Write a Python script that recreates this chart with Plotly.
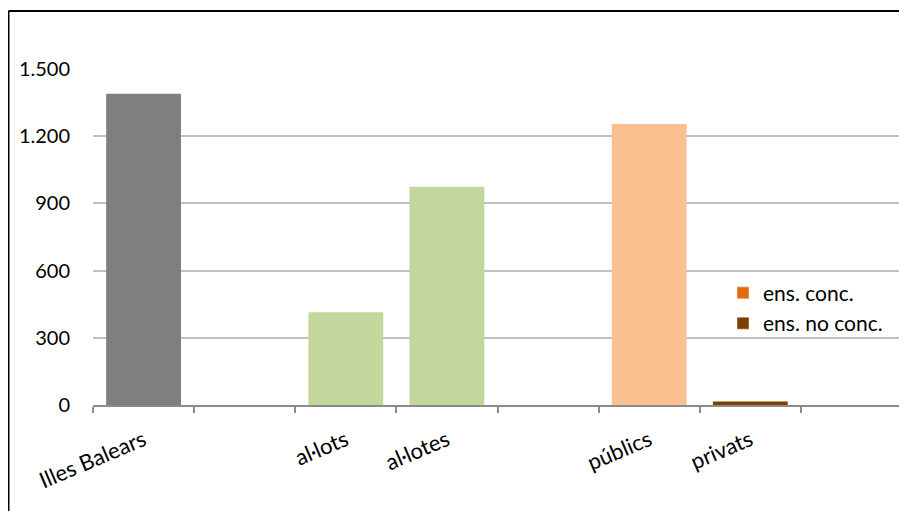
import plotly.graph_objects as go

categories = ["Illes Balears", " ", "al·lots", "al·lotes", "  ", "públics", "privats", "   "]
values = [1389, None, 414, 974, None, 1255, 16, None]
bar_colors = ["#7F7F7F", "#7F7F7F", "#C3D69B", "#C3D69B", "#FAC090", "#FAC090", "#7F3F00", "#7F3F00"]
legend_names = ["ens. conc.", "ens. no conc."]
legend_colors = ["#E36C09", "#7F3F00"]
y_ticks = [0, 300, 600, 900, 1200, 1500]

FONT = "Lato, 'Open Sans', sans-serif"

fig = go.Figure()
fig.add_trace(go.Bar(
    x=categories, y=values, marker=dict(color=bar_colors, line=dict(width=0)),
    width=0.74, showlegend=False, hoverinfo="x+y",
))
for name, col in zip(legend_names, legend_colors):
    fig.add_trace(go.Bar(x=[categories[-1]], y=[None], name=name,
                         marker=dict(color=col), showlegend=True))

# page offset of the figure div (body margin)
OFF = 8
# plot area in page pixels
L, R, T, B = 93.0, 902.0, 69.0, 405.5
W, H = R - L, B - T
def px(x):
    return (x - L) / W
def py(y):
    return (B - y) / H

FIG_W, FIG_H = 907 - OFF, 511 - OFF
frame = dict(color="#000000", width=2)
fig.add_shape(type="line", xref="paper", yref="paper", x0=px(8.5), x1=px(8.5), y0=py(11), y1=py(520), line=frame)
fig.add_shape(type="line", xref="paper", yref="paper", x0=px(8.5), x1=px(920), y0=py(11), y1=py(11), line=frame)

fig.update_layout(
    width=FIG_W, height=FIG_H,
    margin=dict(l=L - OFF, r=FIG_W - (R - OFF), t=T - OFF, b=FIG_H - (B - OFF)),
    paper_bgcolor="white", plot_bgcolor="white",
    barmode="overlay",
    separators=",.",
    font=dict(family=FONT, size=19, color="#000000"),
    legend=dict(x=px(723), y=py(273), xanchor="left", yanchor="top",
                bgcolor="rgba(0,0,0,0)", font=dict(size=21), tracegroupgap=0),
    xaxis=dict(type="category", categoryorder="array", categoryarray=categories,
               showline=True, linecolor="#8C8C8C", linewidth=2,
               ticks="outside", tickson="boundaries", ticklen=6, tickcolor="#8C8C8C", tickwidth=2,
               tickangle=-23, showgrid=False, tickfont=dict(size=22), ticklabelstandoff=12),
    yaxis=dict(range=[0, 1500], tickvals=y_ticks, tickformat=",d",
               showgrid=True, gridcolor="#C0C0C0", gridwidth=2,
               zeroline=False, showline=False, ticks="", ticklabelstandoff=22,
               tickfont=dict(size=20)),
)

fig.write_html("out.html")
